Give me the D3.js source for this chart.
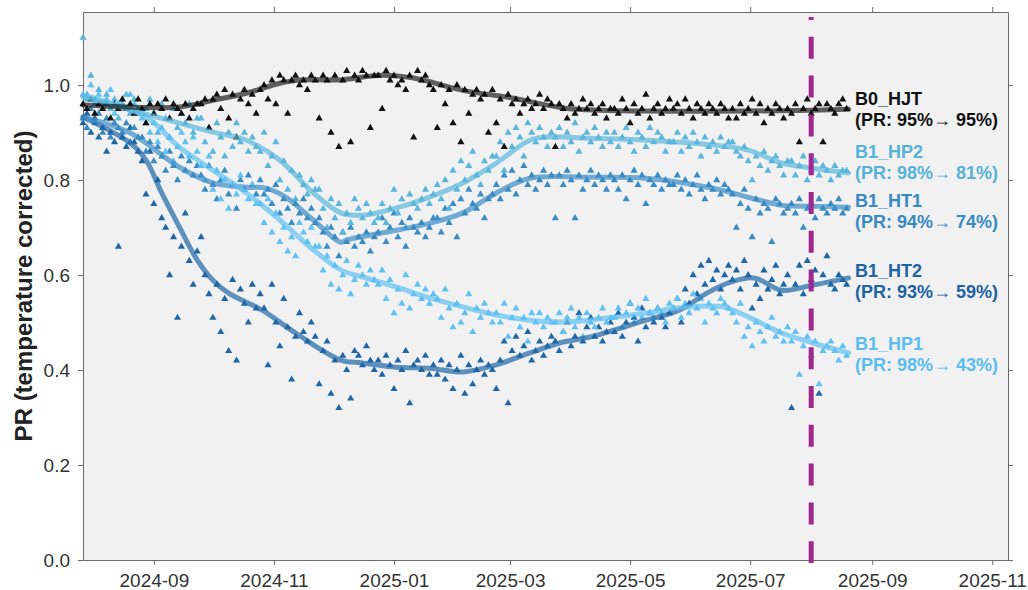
<!DOCTYPE html>
<html>
<head>
<meta charset="utf-8">
<script src="https://cdn.jsdelivr.net/npm/d3@7"></script>
<style>
  body { margin: 0; background: #fff; }
  svg { font-family: "Liberation Sans", Arial, sans-serif; }
</style>
</head>
<body>
<svg id="chart" width="1028" height="590"></svg>
<script>
// PR samples, one value every 2 days starting at firstDay
const firstDay = "2024-07-27";
const stepDays = 2;

const hjtValues = [
  .96,.95,.97,.94,.96,.95,.96,.93,.96,.95,.97,.95,.96,.94,.97,
  .95,.92,.96,.94,.96,.95,.97,.93,.96,.95,.94,.96,.93,.95,.96,
  .96,.97,.91,.97,.98,.95,.99,.93,.98,.89,.97,.99,.96,.98,.94,
  .99,1.0,.97,1.01,.96,1.02,1.01,.94,1.01,1.02,1.0,1.01,.99,1.02,1.01,
  .93,1.02,1.01,.90,1.02,.87,1.01,1.03,.88,1.02,1.01,1.03,1.02,.91,1.02,
  1.02,.95,1.03,1.01,1.02,1.0,1.01,.99,1.02,.89,1.03,1.01,1.02,1.0,.99,
  .91,1.0,.96,.99,.92,1.0,.88,.99,.94,.98,.99,.97,.98,.90,.99,
  .92,.97,.87,.98,.96,.97,.94,.96,.97,.95,.96,.98,.95,.97,.96,
  .87,.96,.95,.93,.96,.94,.95,.97,.95,.96,.94,.95,.96,.93,.95,
  .95,.94,.97,.95,.92,.96,.94,.95,.98,.93,.95,.96,.94,.95,.97,
  .95,.96,.94,.97,.95,.93,.96,.95,.94,.96,.95,.94,.96,.95,.93,
  .95,.93,.96,.94,.95,.97,.94,.96,.92,.95,.94,.96,.95,.93,.95,
  .94,.96,.88,.95,.97,.94,.95,.96,.88,.96,.95,.94,.96,.97,.95
];
const hp2Values = [
  1.10,.98,1.02,.97,.99,.96,.98,.95,.97,.93,.96,.98,.94,.97,.95,
  .95,.92,.97,.94,.90,.96,.93,.89,.95,.91,.94,.92,.96,.90,.93,
  .93,.88,.91,.86,.92,.89,.85,.90,.87,.92,.88,.90,.86,.89,.87,
  .86,.90,.83,.85,.88,.80,.84,.78,.82,.76,.81,.79,.77,.80,.78,
  .78,.74,.70,.76,.72,.75,.69,.73,.71,.76,.74,.72,.75,.73,.71,
  .72,.75,.71,.74,.78,.73,.76,.70,.77,.75,.74,.76,.78,.75,.77,
  .79,.76,.80,.74,.82,.78,.84,.80,.83,.86,.81,.79,.84,.82,.85,
  .85,.88,.82,.90,.87,.91,.89,.85,.92,.90,.88,.91,.89,.87,.90,
  .89,.91,.87,.90,.88,.92,.86,.89,.90,.88,.91,.89,.87,.90,.88,
  .90,.87,.89,.91,.88,.86,.90,.89,.87,.91,.88,.90,.89,.86,.88,
  .88,.90,.86,.89,.87,.90,.88,.85,.89,.87,.88,.86,.89,.87,.88,
  .88,.86,.85,.87,.84,.80,.85,.83,.86,.82,.84,.85,.83,.81,.84,
  .84,.81,.83,.85,.80,.82,.84,.81,.83,.82,.80,.83,.81,.82,.82
];
const ht1Values = [
  .93,.91,.95,.92,.94,.90,.93,.89,.92,.91,.90,.92,.88,.91,.89,
  .89,.86,.88,.84,.87,.85,.82,.86,.83,.80,.85,.82,.84,.81,.83,
  .81,.78,.83,.79,.76,.80,.82,.77,.79,.74,.80,.78,.81,.79,.77,
  .80,.77,.78,.75,.79,.73,.76,.74,.71,.75,.73,.76,.72,.74,.71,
  .72,.69,.66,.70,.68,.64,.69,.67,.70,.66,.68,.67,.69,.65,.68,
  .69,.72,.67,.70,.73,.68,.71,.66,.72,.70,.69,.71,.68,.70,.72,
  .72,.69,.74,.71,.75,.68,.76,.73,.78,.75,.74,.77,.72,.76,.77,
  .79,.76,.81,.78,.82,.77,.80,.83,.79,.81,.78,.80,.82,.79,.81,
  .72,.81,.79,.82,.80,.72,.81,.78,.80,.82,.79,.81,.80,.78,.81,
  .80,.78,.81,.76,.80,.82,.79,.81,.75,.80,.79,.81,.78,.80,.79,
  .79,.81,.78,.80,.77,.79,.81,.78,.76,.79,.78,.80,.77,.79,.78,
  .77,.70,.75,.78,.74,.68,.76,.73,.75,.74,.67,.76,.75,.73,.74,
  .75,.73,.76,.70,.74,.75,.72,.76,.74,.73,.75,.74,.76,.73,.74
];
const ht2Values = [
  .92,.94,.90,.93,.89,.91,.86,.90,.88,.66,.89,.87,.91,.88,.86,
  .84,.77,.86,.75,.80,.72,.70,.60,.68,.51,.66,.73,.63,.58,.65,
  .68,.60,.56,.51,.58,.48,.55,.44,.59,.42,.57,.54,.50,.58,.53,
  .56,.53,.41,.58,.50,.45,.55,.49,.38,.47,.52,.48,.46,.50,.47,
  .37,.44,.46,.35,.42,.32,.43,.40,.34,.44,.43,.41,.45,.42,.40,
  .42,.39,.43,.41,.36,.42,.40,.44,.33,.41,.42,.40,.43,.39,.41,
  .39,.42,.38,.41,.36,.40,.43,.35,.41,.37,.40,.42,.39,.41,.40,
  .36,.42,.46,.33,.44,.47,.43,.45,.48,.42,.44,.46,.43,.45,.47,
  .46,.44,.48,.50,.45,.47,.52,.46,.49,.51,.47,.49,.46,.48,.50,
  .48,.52,.47,.50,.54,.51,.46,.53,.49,.52,.50,.53,.51,.49,.52,
  .53,.55,.50,.57,.54,.60,.56,.62,.58,.63,.59,.61,.57,.60,.62,
  .59,.61,.57,.63,.60,.53,.58,.55,.61,.57,.59,.62,.56,.58,.60,
  .32,.58,.62,.56,.63,.59,.61,.35,.60,.64,.58,.57,.60,.59,.58
];
const hp1Values = [
  .98,.97,1.0,.96,.98,.95,.97,.99,.94,.96,.97,.95,.98,.96,.94,
  .93,.95,.90,.92,.88,.91,.86,.89,.84,.87,.90,.88,.85,.89,.86,
  .83,.80,.85,.78,.82,.76,.80,.74,.79,.77,.81,.78,.76,.79,.75,
  .75,.71,.76,.69,.73,.67,.70,.65,.68,.64,.71,.69,.67,.70,.66,
  .66,.61,.64,.58,.62,.57,.60,.63,.56,.59,.62,.60,.58,.61,.59,
  .58,.61,.55,.59,.52,.57,.54,.60,.53,.56,.58,.55,.57,.54,.56,
  .55,.51,.57,.53,.49,.54,.50,.52,.56,.48,.53,.51,.54,.52,.50,
  .52,.50,.54,.47,.51,.53,.49,.51,.46,.52,.50,.52,.49,.51,.50,
  .50,.52,.48,.51,.53,.49,.51,.47,.52,.50,.49,.51,.53,.50,.51,
  .51,.53,.49,.52,.54,.50,.53,.51,.55,.52,.51,.53,.52,.50,.54,
  .53,.55,.51,.54,.52,.56,.53,.55,.50,.54,.53,.52,.55,.54,.53,
  .52,.50,.54,.47,.49,.45,.50,.48,.46,.49,.51,.47,.48,.46,.49,
  .46,.48,.39,.45,.47,.43,.46,.37,.44,.45,.46,.44,.42,.45,.43
];

// smoothed trend lines, [date, PR]
const hjtTrend = [["2024-07-27",.958],["2024-09-14",.954],["2024-10-01",.968],["2024-10-18",.983],
  ["2024-11-04",1.004],["2024-11-14",1.011],["2024-12-05",1.011],["2024-12-25",1.021],["2025-01-11",1.015],
  ["2025-02-05",.989],["2025-03-02",.973],["2025-03-28",.952],["2025-04-16",.947],["2025-06-05",.945],
  ["2025-08-02",.947],["2025-08-20",.949]];
const hp2Trend = [["2024-07-27",.975],["2024-09-14",.920],["2024-10-01",.901],["2024-10-18",.884],
  ["2024-11-04",.842],["2024-11-21",.773],["2024-12-05",.731],["2024-12-16",.726],["2025-01-02",.741],
  ["2025-01-19",.764],["2025-02-05",.794],["2025-02-22",.836],["2025-03-11",.884],["2025-03-20",.891],
  ["2025-04-10",.888],["2025-05-09",.884],["2025-06-12",.874],["2025-06-30",.863],["2025-07-17",.836],
  ["2025-08-02",.825],["2025-08-20",.815]];
const ht1Trend = [["2024-07-27",.933],["2024-08-20",.899],["2024-09-14",.827],["2024-10-01",.794],
  ["2024-10-18",.785],["2024-10-28",.783],["2024-11-07",.764],["2024-11-21",.716],["2024-12-05",.669],
  ["2024-12-08",.674],["2024-12-25",.688],["2025-01-19",.709],["2025-02-05",.731],["2025-02-22",.773],
  ["2025-03-11",.804],["2025-04-10",.806],["2025-05-09",.804],["2025-06-12",.783],["2025-06-30",.764],
  ["2025-07-17",.747],["2025-08-02",.745],["2025-08-20",.743]];
const ht2Trend = [["2024-07-27",.933],["2024-08-20",.878],["2024-08-28",.842],["2024-09-05",.773],
  ["2024-09-14",.701],["2024-09-23",.632],["2024-10-01",.589],["2024-10-09",.562],["2024-10-26",.526],
  ["2024-11-12",.478],["2024-12-05",.421],["2024-12-16",.415],["2025-01-02",.406],["2025-01-19",.404],
  ["2025-02-05",.396],["2025-02-22",.411],["2025-03-11",.436],["2025-03-28",.459],["2025-04-10",.469],
  ["2025-05-09",.505],["2025-05-26",.526],["2025-06-09",.562],["2025-06-21",.585],["2025-07-03",.594],
  ["2025-07-17",.568],["2025-08-02",.579],["2025-08-20",.594]];
const hp1Trend = [["2024-07-27",.979],["2024-08-28",.933],["2024-09-14",.869],["2024-10-01",.821],
  ["2024-10-18",.773],["2024-11-04",.716],["2024-11-21",.653],["2024-12-05",.611],["2024-12-16",.596],
  ["2025-01-02",.575],["2025-01-19",.552],["2025-02-05",.533],["2025-02-22",.516],["2025-03-11",.505],
  ["2025-03-28",.501],["2025-04-10",.505],["2025-05-09",.520],["2025-05-26",.531],["2025-06-17",.533],
  ["2025-06-30",.512],["2025-07-17",.478],["2025-08-02",.457],["2025-08-20",.436]];

const seriesNames = ["B0_HJT", "B1_HP2", "B1_HT1", "B1_HT2", "B1_HP1"];
const prStart = [95, 98, 94, 93, 98];
const prEnd = [95, 81, 74, 59, 43];
const yTicks = [0, 0.2, 0.4, 0.6, 0.8, 1.0];
const markerDate = "2025-08-01";

const colors = ["#111111", "#5ab6dc", "#3a8bc4", "#1f66a6", "#60c1f2"];
const labelColors = ["#111111", "#56b2d6", "#3889c2", "#1e63a2", "#5bbdef"];

const svg = d3.select("#chart");
const margin = {left: 83, right: 1008, top: 12, bottom: 560};
const parse = d3.utcParse("%Y-%m-%d");

const x = d3.scaleUtc()
  .domain([parse("2024-07-27"), parse("2025-11-09")])
  .range([margin.left, margin.right]);
const y = d3.scaleLinear()
  .domain([0, 1.154])
  .range([margin.bottom, margin.top]);

svg.append("rect")
  .attr("x", margin.left).attr("y", margin.top)
  .attr("width", margin.right - margin.left)
  .attr("height", margin.bottom - margin.top)
  .attr("fill", "#f1f1f1");

// axes on all four sides
const monthTicks = d3.utcMonth.every(2);
function styleAxis(g) {
  g.selectAll(".domain").attr("stroke", "#6a6a6a");
  g.selectAll(".tick line").attr("stroke", "#6a6a6a");
  g.selectAll(".tick text").attr("fill", "#333").style("font-size", "19px")
    .style("font-family", "'Liberation Sans', Arial, sans-serif");
}
svg.append("g")
  .attr("transform", "translate(0," + margin.bottom + ")")
  .call(d3.axisBottom(x).ticks(monthTicks).tickFormat(d3.utcFormat("%Y-%m")).tickSize(5).tickSizeOuter(0).tickPadding(9))
  .call(styleAxis);
svg.append("g")
  .attr("transform", "translate(0," + margin.top + ")")
  .call(d3.axisTop(x).ticks(monthTicks).tickFormat("").tickSize(5).tickSizeOuter(0))
  .call(styleAxis);
svg.append("g")
  .attr("transform", "translate(" + margin.left + ",0)")
  .call(d3.axisLeft(y).tickValues(yTicks).tickFormat(d3.format(".1f")).tickSize(5).tickSizeOuter(0).tickPadding(8))
  .call(styleAxis);
svg.append("g")
  .attr("transform", "translate(" + margin.right + ",0)")
  .call(d3.axisRight(y).tickValues(yTicks).tickFormat("").tickSize(5).tickSizeOuter(0))
  .call(styleAxis);

svg.append("text")
  .attr("transform", "translate(32," + ((margin.top + margin.bottom) / 2) + ") rotate(-90)")
  .attr("text-anchor", "middle")
  .attr("fill", "#222")
  .style("font-size", "24px")
  .style("font-weight", "bold")
  .text("PR (temperature corrected)");

const allValues = [hjtValues, hp2Values, ht1Values, ht2Values, hp1Values];
const allTrends = [hjtTrend, hp2Trend, ht1Trend, ht2Trend, hp1Trend];
const start = parse(firstDay);
const tri = d3.symbol(d3.symbolTriangle, 22);

// scatter, darker series first so the light ones sit on top
const drawOrder = [3, 2, 4, 1, 0];
drawOrder.forEach(s => {
  const pts = allValues[s].map((v, i) => ({date: d3.utcDay.offset(start, i * stepDays), v: v}));
  svg.append("g")
    .selectAll("path")
    .data(pts)
    .enter()
    .append("path")
    .attr("d", tri)
    .attr("transform", d => "translate(" + x(d.date) + "," + y(d.v) + ")")
    .attr("fill", colors[s]);
});

const line = d3.line()
  .x(d => x(parse(d[0])))
  .y(d => y(d[1]))
  .curve(d3.curveCatmullRom);
drawOrder.forEach(s => {
  svg.append("path")
    .datum(allTrends[s])
    .attr("d", line)
    .attr("fill", "none")
    .attr("stroke", colors[s])
    .attr("stroke-width", 5)
    .attr("stroke-linecap", "round")
    .attr("opacity", s == 0 ? 0.65 : 0.7);
});

// marker line
svg.append("line")
  .attr("x1", x(parse(markerDate))).attr("x2", x(parse(markerDate)))
  .attr("y1", 17).attr("y2", margin.bottom + 3)
  .attr("stroke", "#a0288e")
  .attr("stroke-width", 5)
  .attr("stroke-dasharray", "22 16.8")
  .attr("stroke-dashoffset", 19);

// end labels
const labelY = [105, 158, 207, 277, 350];
seriesNames.forEach((name, s) => {
  const t = svg.append("text")
    .attr("x", 855)
    .attr("y", labelY[s])
    .attr("fill", labelColors[s])
    .style("font-size", "18px")
    .style("font-weight", "bold");
  t.append("tspan").attr("x", 855).text(name);
  t.append("tspan").attr("x", 855).attr("dy", 21)
    .text("(PR: " + prStart[s] + "%\u2192 " + prEnd[s] + "%)");
});
</script>
</body>
</html>
